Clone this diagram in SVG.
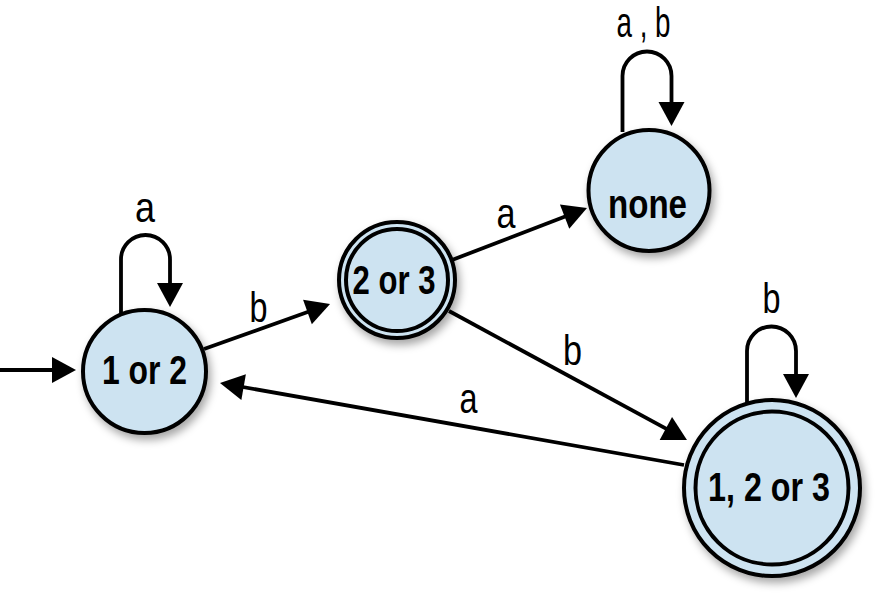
<svg xmlns="http://www.w3.org/2000/svg" width="888" height="605" viewBox="0 0 888 605">
<style>
.st{fill:#cde3f1;stroke:#000;stroke-width:4}
.ring{fill:none;stroke:#000;stroke-width:4}
.nl{font-family:"Liberation Sans",Arial,sans-serif;font-weight:bold;font-size:40px;text-anchor:middle;fill:#000}
.el{font-family:"Liberation Sans",Arial,sans-serif;font-size:42px;text-anchor:middle;fill:#000}
.e{fill:none;stroke:#000;stroke-width:3.8;marker-end:url(#ah)}
</style>
<defs>
<marker id="ah" markerUnits="userSpaceOnUse" markerWidth="26" markerHeight="28" refX="18" refY="13" orient="auto" overflow="visible">
<path d="M0,0 L24,13 L0,26 Z" fill="#000"/>
</marker>
<filter id="sh" x="-30%" y="-30%" width="160%" height="170%">
<feDropShadow dx="3" dy="5" stdDeviation="4" flood-color="#000" flood-opacity="0.35"/>
</filter>
</defs>

<g id="connectors">
<line class="e" x1="0" y1="370" x2="70" y2="370"/>
<path class="e" d="M121,313 V259.5 A24.5,24.5 0 0 1 170,259.5 V301"/>
<line class="e" x1="204" y1="349" x2="324.4" y2="306"/>
<line class="e" x1="452" y1="260" x2="581.4" y2="210.2"/>
<path class="e" d="M622.5,132 V76 A24.5,24.5 0 0 1 671.5,76 V120"/>
<line class="e" x1="449" y1="311" x2="681.7" y2="437.1"/>
<line class="e" x1="684" y1="465" x2="225.9" y2="384"/>
<path class="e" d="M747,403 V351 A24.5,24.5 0 0 1 796,351 V392"/>
<text class="el" x="145" y="222" textLength="20" lengthAdjust="spacingAndGlyphs">a</text>
<text class="el" x="258.5" y="322" textLength="18" lengthAdjust="spacingAndGlyphs">b</text>
<text class="el" x="506" y="228" textLength="19" lengthAdjust="spacingAndGlyphs">a</text>
<text class="el" x="643.5" y="37" font-size="36" textLength="54" lengthAdjust="spacingAndGlyphs">a , b</text>
<text class="el" x="572.5" y="365" textLength="19" lengthAdjust="spacingAndGlyphs">b</text>
<text class="el" x="468.5" y="413" textLength="18" lengthAdjust="spacingAndGlyphs">a</text>
<text class="el" x="771.5" y="313" textLength="18" lengthAdjust="spacingAndGlyphs">b</text>
</g>

<g id="n12">
<circle class="st" cx="144.5" cy="371.5" r="61.5" filter="url(#sh)"/>
<text class="nl" x="144.5" y="384" textLength="85" lengthAdjust="spacingAndGlyphs">1 or 2</text>
</g>

<g id="n23">
<circle class="st" cx="397" cy="280" r="58" filter="url(#sh)"/>
<circle class="ring" cx="397" cy="280" r="51"/>
<text class="nl" x="394" y="294" textLength="83" lengthAdjust="spacingAndGlyphs">2 or 3</text>
</g>

<g id="nnone">
<circle class="st" cx="649" cy="190.5" r="60.5" filter="url(#sh)"/>
<text class="nl" x="647.5" y="218" textLength="79" lengthAdjust="spacingAndGlyphs">none</text>
</g>

<g id="n123">
<circle class="st" cx="772" cy="488" r="88" filter="url(#sh)"/>
<circle class="ring" cx="772" cy="488" r="76.5"/>
<text class="nl" x="769" y="501" textLength="122" lengthAdjust="spacingAndGlyphs">1, 2 or 3</text>
</g>
</svg>
